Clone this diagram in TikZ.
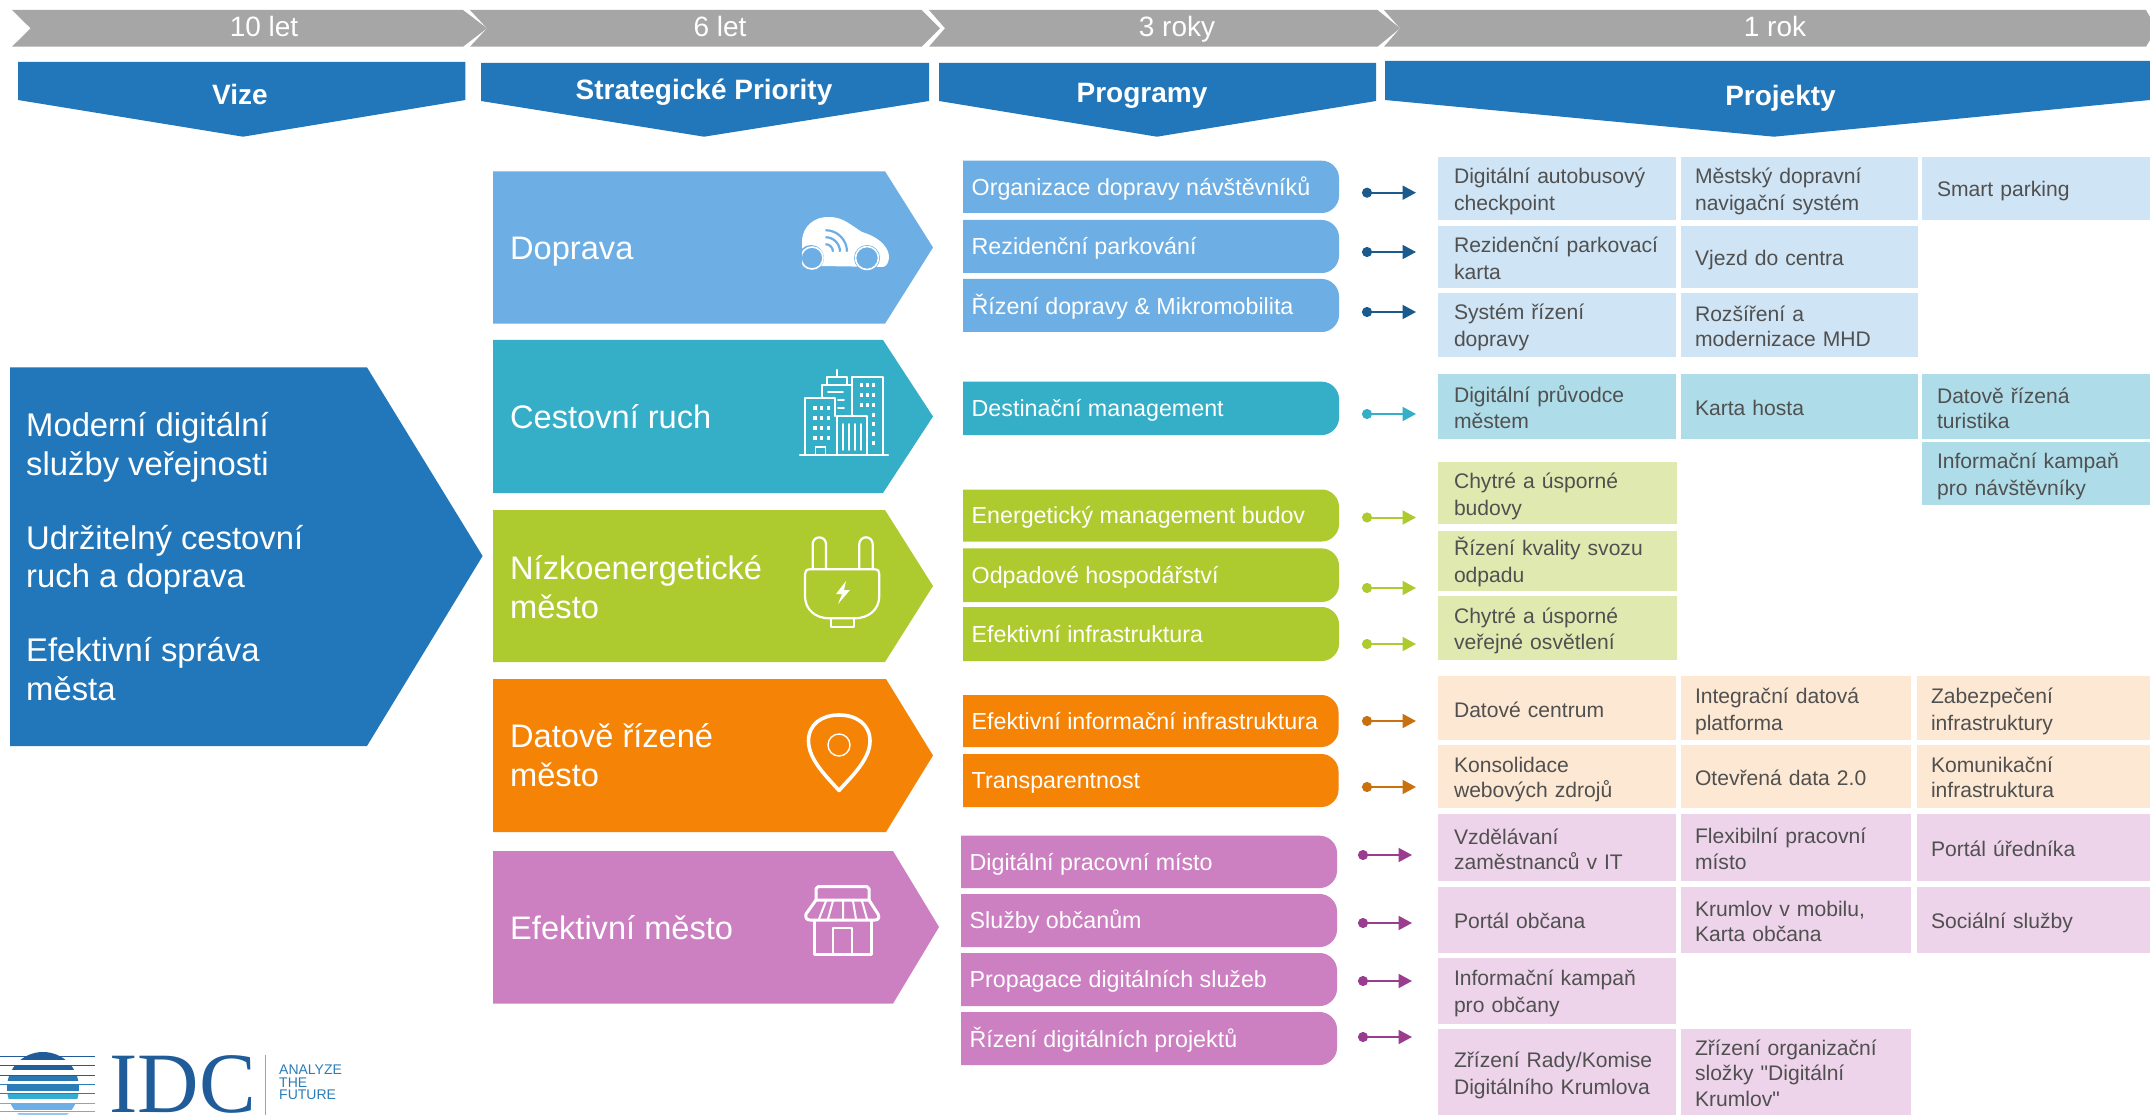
\documentclass[tikz,border=0pt]{standalone}
\usepackage{fontspec}
\setmainfont{Liberation Sans}[Ligatures=TeXOff]
\newfontfamily\idcserif{Liberation Serif}
\usetikzlibrary{arrows.meta}
\definecolor{barc}{HTML}{A6A6A6}
\definecolor{headc}{HTML}{2177BA}
\definecolor{bluec}{HTML}{6DAFE4}
\definecolor{tealc}{HTML}{35AEC8}
\definecolor{greenc}{HTML}{ADCB2E}
\definecolor{orangec}{HTML}{F58306}
\definecolor{purplec}{HTML}{CC7FC1}
\definecolor{bluel}{HTML}{CFE4F4}
\definecolor{teall}{HTML}{AEDDE9}
\definecolor{greenl}{HTML}{E0EAB0}
\definecolor{orangel}{HTML}{FDE8D3}
\definecolor{purplel}{HTML}{EED4EA}
\definecolor{bluea}{HTML}{1A5A8C}
\definecolor{teala}{HTML}{35AEC8}
\definecolor{greena}{HTML}{ADCB2E}
\definecolor{orangea}{HTML}{C9700F}
\definecolor{purplea}{HTML}{9B3D8F}
\definecolor{idcblue}{HTML}{1F5C99}
\definecolor{tagblue}{HTML}{2B7DB8}
\definecolor{ptext}{HTML}{505050}
\newcommand{\cellstrut}{\rule[-3.5pt]{0pt}{25pt}}
\tikzset{
  bartext/.style={text=white,font=\fontsize{28}{32}\selectfont,inner sep=0pt,anchor=base},
  headtext/.style={text=white,font=\bfseries\fontsize{28}{32}\selectfont,inner sep=0pt,anchor=base},
  bigtext/.style={text=white,font=\fontsize{32.6}{38.5}\selectfont,anchor=west,align=left,inner sep=0pt},
  vistext/.style={text=white,font=\fontsize{32.8}{38.5}\selectfont,anchor=west,align=left,inner sep=0pt},
  progtext/.style={text=white,font=\fontsize{23.25}{27}\selectfont,anchor=west,inner sep=0pt,yshift=-3pt,
    execute at begin node=\strut},
  projbox/.style={rectangle,inner sep=0pt,text=ptext,align=left,
    font=\fontsize{21.1}{25}\selectfont,
    execute at begin node=\cellstrut,execute at end node=\cellstrut},
  flow/.style={line width=2pt,{Circle[length=10pt,width=10pt]}-{Triangle[length=13.5pt,width=14pt]}},
  icon/.style={draw=white,line width=2.2pt,line join=round,line cap=round},
}
% name x1 y1 x2 y2 fill textinset text
\newcommand{\projcell}[8]{%
  \pgfmathsetmacro{\pw}{#4-#2}\pgfmathsetmacro{\ph}{#5-#3}%
  \pgfmathsetmacro{\pi}{\pw-2*#7}%
  \node[projbox,fill=#6,minimum width=\pw pt,minimum height=\ph pt,text width=\pi pt] (#1) at ({(#2+#4)/2},{(#3+#5)/2}) {#8};}
% name x1 y1 x2 y2 fill text-x text
\newcommand{\progbar}[8]{%
  \fill[#6] (#2,#3) -- ({#4-17},#3) .. controls ({#4-8},#3) and (#4,{#3+8}) .. (#4,{#3+17})
    -- (#4,{#5-17}) .. controls (#4,{#5-8}) and ({#4-8},#5) .. ({#4-17},#5) -- (#2,#5) -- cycle;
  \node[progtext] (#1) at (#7,{(#3+#5)/2}) {#8};}
% name x1 x2 y colour
\newcommand{\linkarrow}[5]{%
  \coordinate (#1s) at (#2,#4);\coordinate (#1e) at (#3,#4);
  \draw[flow,draw=#5,fill=#5] (#1s) -- (#1e);}
% x1 x2 y1 y2 tipx tipy colour
\newcommand{\pentagon}[7]{\fill[#7] (#1,#3) -- (#2,#3) -- (#5,#6) -- (#2,#4) -- (#1,#4) -- cycle;}
\begin{document}
\begin{tikzpicture}[x=1pt,y=-1pt]
\useasboundingbox (0,0) rectangle (2150,1115);
\fill[white] (0,0) rectangle (2150,1115);
% time bar
\fill[barc] (12,10) -- (463,10) -- (487,28.3) -- (463,46.7) -- (12,46.7) -- (30.6,28.3) -- cycle;
\fill[barc] (470,10) -- (921.6,10) -- (940,28.3) -- (921.6,46.7) -- (470,46.7) -- (487,28.3) -- cycle;
\fill[barc] (929,10) -- (1377.5,10) -- (1400,28.3) -- (1377.5,46.7) -- (929,46.7) -- (945,28.3) -- cycle;
\fill[barc] (1384,10) -- (2146,10) -- (2150,17) -- (2150,40) -- (2146,46.7) -- (1384,46.7) -- (1400,28.3) -- cycle;
\node[bartext] (t10) at (264,37) {10 let};
\node[bartext] (t6) at (720,37) {6 let};
\node[bartext] (t3) at (1177,37) {3 roky};
\node[bartext] (t1) at (1775,37) {1 rok};
% headers
\fill[headc] (18,62) -- (465.4,62) -- (465.4,100) -- (243,136.7) -- (18,100) -- cycle;
\fill[headc] (481,63) -- (929,63) -- (929,101) -- (704,136.7) -- (481,101) -- cycle;
\fill[headc] (939,63) -- (1376,63) -- (1376,101) -- (1157,136.7) -- (939,101) -- cycle;
\fill[headc] (1385,61) -- (2150,61) -- (2150,100) -- (1774,136.7) -- (1385,100) -- cycle;
\node[headtext] (hv) at (240,105) {Vize};
\node[headtext] (hs) at (704,100) {Strategické Priority};
\node[headtext] (hp) at (1142,103) {Programy};
\node[headtext] (hj) at (1780.5,106) {Projekty};
% vision
\pentagon{10}{367}{367.4}{746}{482.6}{556}{headc}
\node[vistext] (v1) at (26,447.5) {Moderní digitální\\služby veřejnosti};
\node[vistext] (v2) at (26,560) {Udržitelný cestovní\\ruch a doprava};
\node[vistext] (v3) at (26,669) {Efektivní správa\\města};
% priorities
\pentagon{493}{885}{171.3}{323.7}{933}{247.5}{bluec}
\pentagon{493}{883}{340}{493}{933}{416.5}{tealc}
\pentagon{493}{885}{510}{662}{933}{586}{greenc}
\pentagon{493}{886}{679}{832}{933}{755.5}{orangec}
\pentagon{493}{893}{851}{1003.6}{939}{927}{purplec}
\node[bigtext] (p1) at (510,252) {Doprava};
\node[bigtext] (p2) at (510,417) {Cestovní ruch};
\node[bigtext] (p3) at (510,587) {Nízkoenergetické\\město};
\node[bigtext] (p4) at (510,755) {Datově řízené\\město};
\node[bigtext] (p5) at (510,928) {Efektivní město};
% car icon
\fill[white] (802,268) -- (802,240) .. controls (803,226) and (815,216) .. (830,217)
  .. controls (843,217) and (852,226) .. (862,232) .. controls (876,236) and (888,245) .. (889,256)
  .. controls (889,262) and (887,266) .. (883,267) -- (820,266) -- cycle;
\fill[bluec] (811,258) circle[radius=13pt] (867,258) circle[radius=13pt];
\draw[white,line width=1.6pt] (812,258) circle[radius=11pt] (867,258) circle[radius=11.5pt];
\fill[bluec] (796,240) rectangle (801.5,272);
\draw[bluec,line width=2.2pt] (833,251.7) arc[start angle=0,end angle=90,radius=7.5pt];
\draw[bluec,line width=2.2pt] (840,251.7) arc[start angle=0,end angle=90,radius=14.5pt];
\draw[bluec,line width=2.2pt] (847,251.7) arc[start angle=0,end angle=90,radius=21.5pt];
% city icon
\draw[icon] (800,455) -- (888,455);
\draw[icon] (805,455) -- (805,398) -- (835,398) -- (835,416);
\draw[icon] (822,398) -- (822,385) -- (852,385);
\draw[icon] (827,385) -- (827,377) -- (847,377) -- (847,385);
\draw[icon] (837,377) -- (837,370);
\draw[icon] (852,416) -- (852,377) -- (883,377) -- (883,455);
\draw[icon] (837,455) -- (837,416) -- (867,416) -- (867,455);
\draw[icon,line width=1.8pt] (828,392) -- (843,392) (838,400) -- (844,400) (838,408) -- (844,408);
\draw[icon,line width=1.8pt] (815.5,455) -- (815.5,447) -- (825.5,447) -- (825.5,455);
\foreach \vx in {843,849,855,861}{\draw[icon,line width=1.8pt] (\vx,424) -- (\vx,450);}
\foreach \dx in {815,821.7,828.3}{\foreach \dy in {408,418,428,438}{\fill[white] (\dx-1.7,\dy-1.7) rectangle (\dx+1.7,\dy+1.7);}}
\foreach \dx in {861.7,867.3,873.3}{\foreach \dy in {385,395,405}{\fill[white] (\dx-1.7,\dy-1.7) rectangle (\dx+1.7,\dy+1.7);}}
\foreach \dy in {415,424,434,443}{\fill[white] (873.3-1.7,\dy-1.7) rectangle (873.3+1.7,\dy+1.7);}
% plug icon
\draw[icon] (812.7,569.3) -- (812.7,544) arc[start angle=180,end angle=0,radius=6.65pt] -- (826,569.3);
\draw[icon] (859.3,569.3) -- (859.3,544) arc[start angle=180,end angle=0,radius=6.7pt] -- (872.7,569.3);
\draw[icon] (810,569.3) -- (874.3,569.3) .. controls (878,569.3) and (879.3,571) .. (879.3,574)
  -- (879.3,596) .. controls (879.3,610) and (868,618.3) .. (855,618.3) -- (829,618.3)
  .. controls (816,618.3) and (805,610) .. (805,596) -- (805,574) .. controls (805,571) and (806.5,569.3) .. (810,569.3) -- cycle;
\draw[icon] (830.7,618.3) -- (830.7,627.3) -- (854,627.3) -- (854,618.3);
\fill[white] (846,581) -- (836,594) -- (842,594) -- (838,604) -- (850,590) -- (844,590) -- cycle;
% pin icon
\draw[white,line width=3.6pt,line join=round] (839,790.5) .. controls (828,778) and (808.5,760) .. (808.5,741)
  .. controls (808.5,724) and (822,715) .. (839,715) .. controls (856,715) and (870,724) .. (870,741)
  .. controls (870,760) and (850,778) .. (839,790.5) -- cycle;
\draw[white,line width=1.4pt] (839,745) circle[radius=11pt];
% store icon
\draw[icon,line width=3pt] (818,886.7) -- (867,886.7) -- (869,888.7) -- (869,900) -- (816,900) -- (816,888.7) -- cycle;
\draw[icon,line width=3pt] (816,900) -- (806,914) .. controls (805,918) and (807,920) .. (810,920) -- (875,920)
  .. controls (878,920) and (880,918) .. (878,914) -- (869,900);
\draw[icon,line width=2pt] (826,901) -- (819,919) (833,901) -- (828,919) (843,901) -- (843,919) (853,901) -- (856,919) (862,901) -- (867,919);
\draw[icon,line width=3pt] (814,920) -- (814,954) -- (871,954) -- (871,920);
\draw[icon,line width=2pt] (833,953) -- (833,928) -- (852,928) -- (852,953);
% programmes
\progbar{g1}{963}{160.7}{1339}{213}{bluec}{971.5}{Organizace dopravy návštěvníků}
\progbar{g2}{963}{220}{1339}{273}{bluec}{971.5}{Rezidenční parkování}
\progbar{g3}{963}{279}{1339}{332}{bluec}{971.5}{Řízení dopravy \& Mikromobilita}
\progbar{g4}{963}{381.7}{1339}{435}{tealc}{971.5}{Destinační management}
\progbar{g5}{963}{489.5}{1339}{541.5}{greenc}{971.5}{Energetický management budov}
\progbar{g6}{963}{548.4}{1339}{602}{greenc}{971.5}{Odpadové hospodářství}
\progbar{g7}{963}{607}{1339}{661}{greenc}{971.5}{Efektivní infrastruktura}
\progbar{g8}{963}{695}{1338.5}{747}{orangec}{971.5}{Efektivní informační infrastruktura}
\progbar{g9}{963}{754}{1338.5}{807}{orangec}{971.5}{Transparentnost}
\progbar{g10}{961}{835.7}{1337}{888}{purplec}{969.5}{Digitální pracovní místo}
\progbar{g11}{961}{894}{1337}{947}{purplec}{969.5}{Služby občanům}
\progbar{g12}{961}{953}{1337}{1006}{purplec}{969.5}{Propagace digitálních služeb}
\progbar{g13}{961}{1012}{1337}{1065}{purplec}{969.5}{Řízení digitálních projektů}
% arrows
\linkarrow{a1}{1362}{1416}{192.7}{bluea}
\linkarrow{a2}{1362}{1416}{252}{bluea}
\linkarrow{a3}{1362}{1416}{312}{bluea}
\linkarrow{a4}{1362}{1416}{414}{teala}
\linkarrow{a5}{1362}{1416}{517.5}{greena}
\linkarrow{a6}{1362}{1416}{588}{greena}
\linkarrow{a7}{1362}{1416}{644}{greena}
\linkarrow{a8}{1362}{1416}{721}{orangea}
\linkarrow{a9}{1362}{1416}{787}{orangea}
\linkarrow{a10}{1358}{1412}{855}{purplea}
\linkarrow{a11}{1358}{1412}{923}{purplea}
\linkarrow{a12}{1358}{1412}{981}{purplea}
\linkarrow{a13}{1358}{1412}{1037}{purplea}
% projects
\projcell{c1}{1438}{156.7}{1676}{220}{bluel}{16}{Digitální autobusový\\checkpoint}
\projcell{c2}{1681}{156.7}{1918}{220}{bluel}{14}{Městský dopravní\\navigační systém}
\projcell{c3}{1922}{156.7}{2150}{220}{bluel}{15}{Smart parking}
\projcell{c4}{1438}{225.7}{1676}{287.7}{bluel}{16}{Rezidenční parkovací\\karta}
\projcell{c5}{1681}{225.7}{1918}{287.7}{bluel}{14}{Vjezd do centra}
\projcell{c6}{1438}{293}{1676}{356.7}{bluel}{16}{Systém řízení\\dopravy}
\projcell{c7}{1681}{293}{1918}{356.7}{bluel}{14}{Rozšíření a\\modernizace MHD}
\projcell{c8}{1438}{374}{1676}{439}{teall}{16}{Digitální průvodce\\městem}
\projcell{c9}{1681}{374}{1918}{439}{teall}{14}{Karta hosta}
\projcell{c10}{1922}{374}{2150}{439}{teall}{15}{Datově řízená\\turistika}
\projcell{c11}{1922}{441.5}{2150}{504.5}{teall}{15}{Informační kampaň\\pro návštěvníky}
\projcell{c12}{1438}{462}{1677}{524}{greenl}{16}{Chytré a úsporné\\budovy}
\projcell{c13}{1438}{530.6}{1677}{591}{greenl}{16}{Řízení kvality svozu\\odpadu}
\projcell{c14}{1438}{596.4}{1677}{659.5}{greenl}{16}{Chytré a úsporné\\veřejné osvětlení}
\projcell{c15}{1438}{676}{1676}{740}{orangel}{16}{Datové centrum}
\projcell{c16}{1681}{676}{1911}{740}{orangel}{14}{Integrační datová\\platforma}
\projcell{c17}{1917}{676}{2150}{740}{orangel}{14}{Zabezpečení\\infrastruktury}
\projcell{c18}{1438}{745}{1676}{807.7}{orangel}{16}{Konsolidace\\webových zdrojů}
\projcell{c19}{1681}{745}{1911}{807.7}{orangel}{14}{Otevřená data 2.0}
\projcell{c20}{1917}{745}{2150}{807.7}{orangel}{14}{Komunikační\\infrastruktura}
\projcell{c21}{1438}{814}{1676}{881}{purplel}{16}{Vzdělávaní\\zaměstnanců v IT}
\projcell{c22}{1681}{814}{1911}{881}{purplel}{14}{Flexibilní pracovní\\místo}
\projcell{c23}{1917}{814}{2150}{881}{purplel}{14}{Portál úředníka}
\projcell{c24}{1438}{886.7}{1676}{952.7}{purplel}{16}{Portál občana}
\projcell{c25}{1681}{886.7}{1911}{952.7}{purplel}{14}{Krumlov v mobilu,\\Karta občana}
\projcell{c26}{1917}{886.7}{2150}{952.7}{purplel}{14}{Sociální služby}
\projcell{c27}{1438}{957.7}{1676}{1024}{purplel}{16}{Informační kampaň\\pro občany}
\projcell{c28}{1438}{1029}{1676}{1115}{purplel}{16}{Zřízení Rady/Komise\\Digitálního Krumlova}
\projcell{c29}{1681}{1029}{1911}{1115}{purplel}{14}{Zřízení organizační\\složky "Digitální\\Krumlov"}
% logo
\begin{scope}
\clip (43,1088) circle[radius=36pt];
\fill[idcblue] (0,1052.3) rectangle (95,1060);
\fill[idcblue!90!tagblue] (0,1065) rectangle (95,1070);
\fill[tagblue!85!idcblue] (0,1075) rectangle (95,1080.7);
\fill[tagblue] (0,1085) rectangle (95,1090.7);
\fill[tagblue!70!cyan!90!white] (0,1094.3) rectangle (95,1099.3);
\fill[bluec] (0,1103.3) rectangle (95,1110);
\fill[bluec!70!white] (0,1113) rectangle (95,1115);
\end{scope}
\foreach \ly/\lc in {1056.7/idcblue,1065.7/idcblue,1075/idcblue,1084.3/tagblue,1093.7/tagblue,1103/bluec,1111.7/bluec}{
  \draw[\lc,line width=1pt] (0,\ly) -- (95,\ly);}
\node[anchor=base west,inner sep=0pt,text=idcblue,font=\idcserif\fontsize{86}{86}\selectfont] (idc) at (109,1112) {\scalebox{.99}[1]{IDC}};
\draw[bluec,line width=1pt] (265.7,1055) -- (265.7,1115);
\node[anchor=north west,inner sep=0pt,align=left,text=tagblue,font=\fontsize{14}{12.7}\selectfont] (tag) at (279,1064.5) {ANALYZE\\THE\\FUTURE};
\end{tikzpicture}
\end{document}
